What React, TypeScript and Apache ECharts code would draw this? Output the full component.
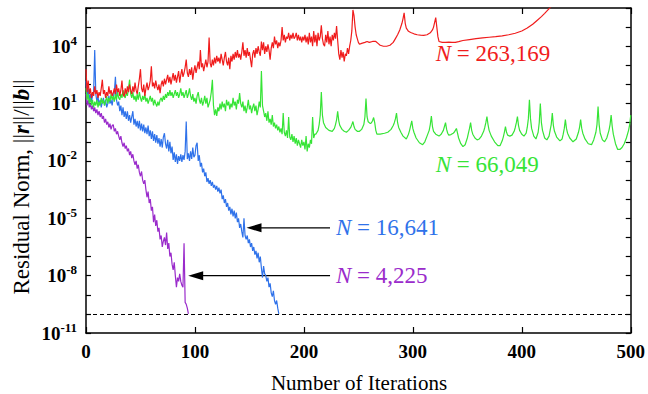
import React, { useEffect, useRef } from 'react';
import * as echarts from 'echarts';

// Residual norm exponents: [iteration, log10(||r||/||b||)]
const purpleN4225: [number, number][] = [
  [0,1.5],[1,0.9],[2,1.2],[3,0.8],[4,1.0],[5,0.7],[6,0.9],[7,0.6],[8,0.8],[9,0.5],[10,0.7],[11,0.4],[12,0.6],[13,0.3],[14,0.5],[15,0.2],[16,0.35],[17,0.0],[18,0.2],[19,-0.1],[20,0.05],[21,-0.25],[22,-0.05],[23,-0.35],[24,-0.15],[25,-0.1],[26,-0.45],[27,-0.3],[28,-0.6],[29,-0.45],[30,-0.7],[31,-0.9],[32,-0.7],[33,-1.05],[34,-1.25],[35,-1.05],[36,-1.35],[37,-1.2],[38,-1.5],[39,-1.35],[40,-1.7],[41,-1.5],[42,-1.85],[43,-1.65],[44,-2.0],[45,-2.2],[46,-2.0],[47,-2.4],[48,-2.2],[49,-2.6],[50,-2.8],[51,-2.55],[52,-3.0],[53,-3.2],[54,-3.0],[55,-3.5],[56,-3.9],[57,-3.6],[58,-4.2],[59,-4.0],[60,-4.6],[61,-4.4],[62,-5.2],[63,-4.8],[64,-5.4],[65,-5.1],[66,-5.7],[67,-5.5],[68,-6.1],[69,-5.9],[70,-6.5],[71,-6.2],[72,-6.0],[73,-6.4],[74,-5.75],[75,-6.6],[76,-6.3],[77,-7.0],[78,-6.8],[79,-7.4],[80,-7.7],[81,-7.3],[82,-8.0],[83,-8.6],[84,-8.1],[85,-8.3],[86,-7.9],[87,-8.3],[88,-8.5],[89,-8.6],[90,-6.3],[91,-9.4],[92,-9.5],[93,-9.7],[94,-10.0]
];

const blueN16641: [number, number][] = [
  [0,2.2],[1,1.4],[2,1.8],[3,1.2],[4,1.5],[5,1.1],[6,1.4],[7,1.6],[8,3.8],[9,1.5],[10,1.1],[11,1.4],[12,0.9],[13,1.2],[14,0.8],[15,1.1],[16,1.3],[17,0.9],[18,1.2],[19,0.8],[20,1.0],[21,1.4],[22,1.0],[23,1.2],[24,0.9],[25,1.3],[26,1.6],[27,2.4],[28,1.2],[29,0.9],[30,1.1],[31,0.6],[32,0.9],[33,0.4],[34,0.8],[35,0.3],[36,0.6],[37,0.2],[38,0.6],[39,0.1],[40,0.4],[41,0.0],[42,0.3],[43,0.6],[44,-0.1],[45,0.2],[46,-0.2],[47,0.1],[48,-0.3],[49,0.1],[50,-0.4],[51,-0.05],[52,-0.45],[53,-0.1],[54,-0.55],[55,-0.25],[56,-0.6],[57,-0.15],[58,-0.7],[59,-0.4],[60,-0.85],[61,-0.45],[62,-0.95],[63,-0.6],[64,-1.05],[65,-0.65],[66,-1.1],[67,-0.8],[68,-1.25],[69,-0.85],[70,-1.3],[71,-0.75],[72,-0.55],[73,-1.1],[74,-1.35],[75,-0.9],[76,-1.5],[77,-1.0],[78,-1.6],[79,-1.25],[80,-1.95],[81,-1.55],[82,-2.05],[83,-1.65],[84,-2.15],[85,-1.75],[86,-2.0],[87,-1.65],[88,-2.05],[89,-1.7],[90,-1.95],[91,-1.5],[92,0.06],[93,-1.9],[94,-1.6],[95,-2.0],[96,-1.5],[97,-1.9],[98,-1.3],[99,-1.8],[100,-1.7],[101,-1.2],[102,-1.05],[103,-2.0],[104,-1.7],[105,-2.3],[106,-2.1],[107,-2.6],[108,-2.4],[109,-2.8],[110,-2.6],[111,-3.1],[112,-2.9],[113,-3.2],[114,-3.0],[115,-3.3],[116,-3.1],[117,-3.4],[118,-3.25],[119,-3.5],[120,-3.3],[121,-3.6],[122,-3.4],[123,-3.7],[124,-3.5],[125,-4.0],[126,-3.8],[127,-4.2],[128,-4.0],[129,-4.4],[130,-4.2],[131,-4.6],[132,-4.4],[133,-4.8],[134,-4.5],[135,-4.9],[136,-4.6],[137,-5.0],[138,-4.7],[139,-5.2],[140,-5.0],[141,-5.5],[142,-5.3],[143,-5.7],[144,-6.0],[145,-5.0],[146,-5.9],[147,-6.1],[148,-5.9],[149,-6.3],[150,-6.1],[151,-6.5],[152,-6.3],[153,-6.7],[154,-6.5],[155,-6.9],[156,-6.7],[157,-7.1],[158,-6.8],[159,-7.3],[160,-7.0],[161,-7.6],[162,-8.1],[163,-7.5],[164,-7.9],[165,-8.0],[166,-8.3],[167,-8.1],[168,-8.6],[169,-8.4],[170,-8.9],[171,-9.1],[172,-8.8],[173,-9.3],[174,-9.5],[175,-9.3],[176,-9.7],[177,-10.0]
];

const greenN66049: [number, number][] = [
  [0,1.8],[1,1.2],[2,1.5],[3,1.0],[4,1.3],[5,0.9],[6,1.2],[7,0.8],[8,1.1],[9,0.9],[10,1.2],[11,0.8],[12,1.1],[13,0.9],[14,1.3],[15,1.0],[16,1.2],[17,0.9],[18,1.1],[19,1.4],[20,1.0],[21,1.3],[22,1.1],[23,1.5],[24,1.2],[25,1.4],[26,1.1],[27,1.5],[28,1.2],[29,1.6],[30,1.3],[31,1.2],[32,1.5],[33,1.3],[34,1.7],[35,1.4],[36,1.3],[37,1.6],[38,1.4],[39,1.8],[40,2.25],[41,1.5],[42,1.3],[43,1.6],[44,1.2],[45,1.4],[46,1.1],[47,1.5],[48,1.2],[49,1.6],[50,1.3],[51,1.1],[52,1.4],[53,1.2],[54,1.5],[55,1.1],[56,1.3],[57,1.0],[58,1.2],[59,1.4],[60,1.1],[61,1.3],[62,0.9],[63,1.2],[64,1.0],[65,0.85],[66,1.1],[67,0.9],[68,1.2],[69,1.3],[70,1.1],[71,1.4],[72,1.2],[73,1.5],[74,1.3],[75,1.6],[76,1.4],[77,1.7],[78,1.4],[79,1.6],[80,1.3],[81,1.5],[82,1.7],[83,1.4],[84,1.6],[85,1.3],[86,1.5],[87,1.8],[88,1.4],[89,1.6],[90,1.3],[91,1.5],[92,1.7],[93,1.3],[94,1.5],[95,1.8],[96,1.4],[97,1.2],[98,1.5],[99,1.1],[100,1.3],[101,1.0],[102,1.4],[103,1.6],[104,1.2],[105,1.0],[106,1.3],[107,0.9],[108,1.1],[109,1.4],[110,1.0],[111,1.3],[112,0.8],[113,1.0],[114,1.2],[115,1.6],[116,2.25],[117,0.9],[118,0.4],[119,0.7],[120,0.35],[121,0.8],[122,0.6],[123,1.0],[124,0.7],[125,1.1],[126,0.8],[127,1.0],[128,0.6],[129,1.2],[130,0.9],[131,1.1],[132,0.7],[133,1.0],[134,0.8],[135,1.3],[136,0.9],[137,1.1],[138,0.7],[139,1.2],[140,1.0],[141,1.55],[142,1.0],[143,0.8],[144,1.1],[145,0.6],[146,0.9],[147,0.5],[148,0.8],[149,1.2],[150,0.7],[151,0.9],[152,0.5],[153,0.8],[154,1.0],[155,0.6],[156,0.9],[157,0.4],[158,0.7],[159,1.1],[160,0.8],[161,2.7],[162,0.9],[163,0.6],[164,0.3],[165,0.5],[166,0.1],[167,0.6],[168,0.0],[169,0.2],[170,-0.1],[171,0.4],[172,-0.2],[173,0.0],[174,-0.3],[175,-0.1],[176,-0.4],[177,-0.2],[178,-0.5],[179,-0.3],[180,-0.6],[181,0.5],[182,-0.5],[183,-0.7],[184,-0.4],[185,-0.8],[186,0.3],[187,-0.75],[188,-0.9],[189,-0.6],[190,-1.0],[191,-0.7],[192,-1.1],[193,-0.8],[194,-1.2],[195,-0.9],[196,-1.1],[197,-1.3],[198,-0.9],[199,-1.2],[200,-1.0],[201,-1.4],[202,-0.7],[203,-1.5],[204,-1.1],[205,-1.3],[206,-0.9],[207,-1.1],[208,0.3],[209,-0.8],[210,-0.6],
  [211,-0.6],[213,-0.4],[214,-0.1],[215,0.4],[216,1.6],[217,0.4],[218,0.0],[220,-0.25],[223,-0.4],[226,-0.45],
  [228,-0.3],[229,-0.1],[230,0.15],[231,0.6],[232,0.1],[233,-0.15],[235,-0.35],[237,-0.45],[239,-0.5],
  [241,-0.4],[243,-0.25],[244,-0.1],[245,0.06],[246,-0.2],[247,-0.35],[249,-0.45],[251,-0.45],
  [253,-0.35],[255,-0.1],[256,0.3],[257,1.26],[258,0.3],[259,0.05],[261,-0.05],[262,0.0],[263,0.1],[264,0.27],[265,0.0],[266,-0.4],[267,-0.6],[270,-0.6],[274,-0.55],[277,-0.5],
  [280,-0.35],[282,-0.15],[283,0.0],[284,0.2],[285,0.5],[286,0.0],[287,-0.25],[289,-0.5],[291,-0.7],[294,-0.85],
  [296,-0.6],[297,-0.4],[298,-0.15],[299,0.1],[300,-0.3],[301,-0.5],[303,-0.8],[306,-1.05],[309,-1.15],
  [311,-1.0],[313,-0.7],[315,-0.4],[316,-0.1],[317,0.35],[318,-0.2],[319,-0.45],[321,-0.6],[324,-0.7],
  [326,-0.6],[328,-0.4],[329,-0.2],[330,0.0],[331,-0.35],[332,-0.55],[333,-0.65],[335,-0.62],[337,-0.55],[338,-0.5],[339,-0.4],[340,-0.3],
  [341,-0.55],[342,-0.8],[344,-1.1],[346,-1.25],[348,-1.15],[350,-0.8],[351,-0.55],[352,-0.3],[353,0.0],
  [354,-0.4],[355,-0.6],[357,-0.8],[359,-0.9],[361,-0.85],[363,-0.7],[365,-0.45],[366,-0.25],[367,0.0],[368,0.32],
  [369,-0.1],[370,-0.4],[372,-0.7],[375,-1.0],[378,-1.2],[380,-1.2],[382,-0.95],[383,-0.75],[384,-0.5],[385,-0.2],
  [386,-0.5],[387,-0.65],[389,-0.7],[391,-0.65],[393,-0.45],[394,-0.25],[395,0.0],[396,0.32],
  [397,-0.15],[398,-0.4],[400,-0.6],[402,-0.7],[404,-0.55],[405,-0.25],[406,0.2],[407,1.2],
  [408,0.2],[409,-0.3],[411,-0.7],[413,-0.85],[415,-0.5],[416,0.0],[417,1.0],
  [418,0.0],[419,-0.4],[421,-0.8],[423,-0.9],[425,-0.7],[426,-0.4],[427,-0.1],[428,0.5],
  [429,-0.15],[430,-0.45],[432,-0.75],[435,-0.95],[437,-0.85],[438,-0.6],[439,-0.3],[440,0.16],
  [441,-0.3],[442,-0.55],[444,-0.8],[447,-1.0],[450,-0.85],[452,-0.5],[453,-0.25],[454,0.16],
  [455,-0.3],[456,-0.55],[458,-0.85],[461,-1.1],[464,-1.15],[466,-0.9],[468,-0.5],[469,-0.1],[470,0.85],
  [471,-0.1],[472,-0.55],[474,-0.9],[476,-1.0],[478,-0.8],[480,-0.4],[481,-0.1],[482,0.4],
  [483,-0.2],[484,-0.6],[486,-1.1],[488,-1.4],[490,-1.4],[492,-1.3],[494,-1.1],[496,-0.8],[498,-0.4],[499,-0.1],[500,0.4]
];

const redN263169: [number, number][] = [
  [0,2.8],[1,1.6],[2,2.2],[3,1.5],[4,1.8],[5,1.3],[6,1.6],[7,1.4],[8,1.9],[9,1.5],[10,1.7],[11,1.3],[12,1.6],[13,1.4],[14,1.8],[15,2.25],[16,1.5],[17,1.7],[18,1.3],[19,1.6],[20,1.4],[21,1.9],[22,1.5],[23,1.7],[24,1.4],[25,1.55],[26,1.8],[27,1.5],[28,2.0],[29,1.6],[30,1.8],[31,1.4],[32,1.7],[33,2.2],[34,1.5],[35,1.37],[36,1.8],[37,1.5],[38,1.9],[39,1.6],[40,2.0],[41,1.7],[42,1.5],[43,1.9],[44,1.6],[45,2.1],[46,1.7],[47,1.5],[48,1.9],[49,2.3],[50,2.8],[51,1.8],[52,1.6],[53,2.0],[54,1.4],[55,1.8],[56,2.1],[57,1.7],[58,1.9],[59,2.2],[60,2.95],[61,1.9],[62,2.1],[63,1.8],[64,2.2],[65,1.9],[66,1.7],[67,2.0],[68,1.55],[69,2.0],[70,2.2],[71,1.9],[72,2.3],[73,2.0],[74,2.25],[75,2.5],[76,2.1],[77,2.4],[78,2.0],[79,2.3],[80,2.6],[81,2.2],[82,2.5],[83,2.1],[84,2.4],[85,2.7],[86,2.1],[87,2.5],[88,2.8],[89,2.4],[90,2.6],[91,2.9],[92,3.3],[93,2.6],[94,2.4],[95,2.8],[96,2.5],[97,2.9],[98,2.25],[99,2.7],[100,3.0],[101,2.6],[102,2.9],[103,3.2],[104,2.8],[105,3.8],[106,2.9],[107,3.1],[108,2.7],[109,3.0],[110,3.3],[111,2.9],[112,3.2],[113,4.45],[114,3.1],[115,2.9],[116,3.3],[117,3.0],[118,3.4],[119,3.1],[120,3.5],[121,3.2],[122,3.4],[123,3.1],[124,3.6],[125,3.3],[126,3.0],[127,3.4],[128,3.7],[129,3.2],[130,3.0],[131,3.4],[132,2.8],[133,3.5],[134,3.2],[135,3.6],[136,3.3],[137,3.7],[138,3.4],[139,3.8],[140,3.4],[141,3.6],[142,3.3],[143,3.7],[144,4.2],[145,3.5],[146,3.8],[147,3.4],[148,3.9],[149,3.5],[150,3.7],[151,3.3],[152,2.9],[153,3.6],[154,3.8],[155,3.4],[156,3.9],[157,3.6],[158,4.0],[159,3.7],[160,3.5],[161,4.25],[162,3.8],[163,4.2],[164,3.6],[165,4.0],[166,3.7],[167,4.1],[168,3.8],[169,3.3],[170,3.9],[171,4.2],[172,3.9],[173,4.5],[174,4.1],[175,4.3],[176,3.9],[177,4.2],[178,4.0],[179,4.3],[180,5.0],[181,4.3],[182,4.6],[183,4.2],[184,4.5],[185,4.4],[186,4.7],[187,4.3],[188,4.6],[189,4.4],[190,4.7],[191,4.4],[192,4.5],[193,4.7],[194,4.3],[195,4.6],[196,4.3],[197,4.5],[198,4.2],[199,4.5],[200,4.3],[201,4.6],[202,4.2],[203,4.5],[204,4.1],[205,4.7],[206,4.2],[207,4.5],[208,4.0],[209,4.8],[210,4.2],[211,4.6],[212,4.0],[213,4.7],[214,4.3],[215,4.5],[216,5.1],[217,4.4],[218,4.1],[219,4.0],[220,4.6],[221,4.2],[222,4.8],[223,4.1],[224,4.5],[225,4.0],[226,4.6],[227,4.3],[228,4.7],[229,4.4],[230,5.05],[231,4.3],[232,3.6],[233,3.3],[234,3.8],[235,3.4],[236,3.7],[237,3.2],[238,3.6],[239,3.5],[240,3.9],[241,3.6],[242,4.0],[243,4.3],[244,4.8],[245,5.9],[246,5.6],[247,5.0],[248,4.6],[249,4.4],[250,4.2],[251,4.1],
  [253,4.15],[256,4.2],[258,4.25],[260,4.2],[263,4.25],[266,4.25],[268,4.15],[270,4.05],[273,4.0],[276,4.0],[279,4.05],[282,4.2],[284,4.4],[286,4.6],[288,4.85],[290,5.2],[291,5.45],[292,5.75],[293,5.2],[294,4.95],[296,4.78],[298,4.72],[301,4.65],[304,4.6],[307,4.58],[310,4.57],[313,4.6],[316,4.7],[318,4.85],[319,5.0],[320,5.25],[321,5.5],[322,5.0],[323,4.5],[324,4.25],[327,4.2],[330,4.2],[333,4.22],[336,4.2],[339,4.2],[342,4.24],[346,4.3],[352,4.35],[358,4.4],[364,4.44],[370,4.47],[376,4.5],[382,4.54],[388,4.6],[394,4.68],[400,4.8],[405,4.95],[410,5.15],[414,5.35],[418,5.55],[421,5.72],[424,5.9],[426,6.02],[427,6.1]
];

const xTickValues = [0, 100, 200, 300, 400, 500];
const yLabelExponents = [-11, -8, -5, -2, 1, 4];
const convergenceTolExponent = -10;

const seriesNames = ['N = 4,225', 'N = 16,641', 'N = 66,049', 'N = 263,169'];
const seriesColors = ['#9a2bcb', '#2f72ea', '#36e436', '#f01c1c'];

// annotations: label text, anchor [iteration, exponent], optional arrow tip iteration
const annotationTexts = ['263,169', '66,049', '16,641', '4,225'];
const annotationAnchors: [number, number][] = [[321, 3.6], [321, -2.2], [229.5, -5.5], [229.5, -8.0]];
const annotationArrowTips: (number | null)[] = [null, null, 147.3, 93.8];

const SERIF = 'Liberation Serif';

export default function App() {
  const ref = useRef<HTMLDivElement>(null);
  useEffect(() => {
    const chart = echarts.init(ref.current!, null, { renderer: 'svg' });
    const datasets = [purpleN4225, blueN16641, greenN66049, redN263169];
    const axisLine = { show: true, onZero: false, lineStyle: { color: '#000', width: 1.5 } };
    chart.setOption({
      animation: false,
      backgroundColor: '#fff',
      textStyle: { fontFamily: SERIF },
      grid: { left: 86, right: 15, top: 8, bottom: 61, containLabel: false },
      xAxis: [
        {
          type: 'value', min: xTickValues[0], max: xTickValues[xTickValues.length - 1], interval: 100,
          position: 'bottom', axisLine,
          axisTick: { inside: true, length: 6, lineStyle: { color: '#000', width: 1.2 } },
          splitLine: { show: false },
          axisLabel: { margin: 9, color: '#000', fontFamily: SERIF, fontWeight: 'bold', fontSize: 19 },
        },
        {
          type: 'value', min: 0, max: 500, interval: 100, position: 'top', axisLine,
          axisTick: { inside: true, length: 6, lineStyle: { color: '#000', width: 1.2 } },
          splitLine: { show: false }, axisLabel: { show: false },
        },
      ],
      yAxis: [
        {
          type: 'value', min: -11, max: 6, interval: 1, position: 'left', axisLine,
          axisTick: { inside: true, length: 5, lineStyle: { color: '#000', width: 1.2 } },
          splitLine: { show: false },
          axisLabel: {
            margin: 9, color: '#000', fontFamily: SERIF,
            formatter: (v: number) => (yLabelExponents.includes(Math.round(v)) ? `{b|10}{s|${Math.round(v)}}` : ''),
            rich: {
              b: { fontFamily: SERIF, fontWeight: 'bold', fontSize: 19, color: '#000' },
              s: { fontFamily: SERIF, fontWeight: 'bold', fontSize: 13, color: '#000', padding: [0, 0, 12, 0] },
            },
          },
        },
        {
          type: 'value', min: -11, max: 6, interval: 1, position: 'right', axisLine,
          axisTick: { inside: true, length: 5, lineStyle: { color: '#000', width: 1.2 } },
          splitLine: { show: false }, axisLabel: { show: false },
        },
      ],
      series: datasets.map((d, i) => ({
        name: seriesNames[i],
        type: 'line',
        data: d,
        showSymbol: false,
        symbol: 'none',
        clip: true,
        lineStyle: { color: seriesColors[i], width: 1.2 },
        itemStyle: { color: seriesColors[i] },
        markLine: i === 0 ? {
          silent: true, symbol: 'none', label: { show: false },
          lineStyle: { color: '#000', width: 1, type: [4, 3] },
          data: [{ yAxis: convergenceTolExponent }],
        } : undefined,
      })),
    });

    const toPx = (p: [number, number]) => chart.convertToPixel({ xAxisIndex: 0, yAxisIndex: 0 }, p) as number[];
    const colorOrder = [3, 2, 1, 0];
    const graphics: any[] = [];
    annotationTexts.forEach((t, k) => {
      const [x, y] = toPx(annotationAnchors[k]);
      const c = seriesColors[colorOrder[k]];
      graphics.push({
        type: 'text', x, y,
        style: {
          text: `{i|N}{t| = ${t}}`,
          textAlign: 'left', textVerticalAlign: 'middle',
          rich: {
            i: { fontFamily: SERIF, fontStyle: 'italic', fontSize: 23, fill: c },
            t: { fontFamily: SERIF, fontSize: 23, fill: c },
          },
        },
      });
      const tip = annotationArrowTips[k];
      if (tip != null) {
        const [tx] = toPx([tip, annotationAnchors[k][1]]);
        graphics.push({
          type: 'line',
          shape: { x1: x - 6, y1: y, x2: tx + 10, y2: y },
          style: { stroke: '#000', lineWidth: 1.2 },
        });
        graphics.push({
          type: 'polygon',
          shape: { points: [[tx, y], [tx + 15, y - 4.5], [tx + 15, y + 4.5]] },
          style: { fill: '#000' },
        });
      }
    });
    graphics.push({
      type: 'text', x: 359, y: 383,
      style: {
        text: 'Number of Iterations', textAlign: 'center', textVerticalAlign: 'middle',
        fontFamily: SERIF, fontSize: 21, fill: '#000',
      },
    });
    graphics.push({
      type: 'text', x: 21, y: 187, rotation: Math.PI / 2,
      style: {
        text: '{t|Residual Norm, ||}{b|r}{t|||/||}{b|b}{t|||}',
        textAlign: 'center', textVerticalAlign: 'middle',
        rich: {
          t: { fontFamily: SERIF, fontSize: 23, fill: '#000' },
          b: { fontFamily: SERIF, fontSize: 23, fontWeight: 'bold', fontStyle: 'italic', fill: '#000' },
        },
      },
    });
    chart.setOption({ graphic: graphics });
    return () => chart.dispose();
  }, []);
  return <div ref={ref} style={{ position: 'fixed', left: 0, top: 0, width: 648, height: 394 }} />;
}
